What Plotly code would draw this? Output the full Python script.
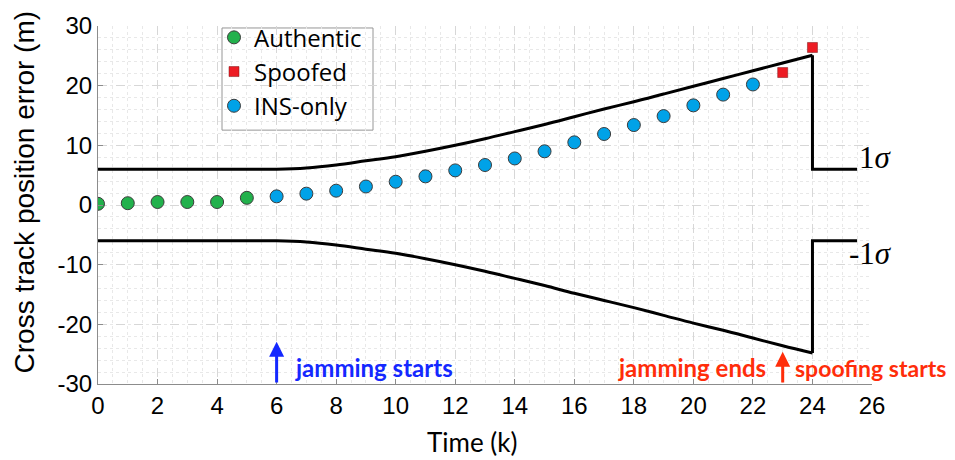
import plotly.graph_objects as go

# ---- data ----
k_auth = [0, 1, 2, 3, 4, 5]
auth_err = [0.2, 0.3, 0.5, 0.5, 0.5, 1.2]

k_spoof = [23, 24]
spoof_err = [22.2, 26.4]

k_ins = [6, 7, 8, 9, 10, 11, 12, 13, 14, 15, 16, 17, 18, 19, 20, 21, 22]
ins_err = [1.45, 1.9, 2.4, 3.1, 3.9, 4.8, 5.8, 6.7, 7.8, 9.0, 10.5, 11.9, 13.4, 14.9, 16.7, 18.5, 20.2]

# 1-sigma bound, smooth growing part
k_bound = [0, 1, 2, 3, 4, 5, 6, 7, 8, 9, 10, 11, 12, 13, 14, 15, 16, 17, 18, 19, 20, 21, 22, 23, 24]
upper_bound = [6, 6, 6, 6, 6, 6, 6, 6.2, 6.7, 7.4, 8.1, 9.0, 10.0, 11.1, 12.3, 13.5, 14.8, 16.1, 17.3,
               18.6, 19.9, 21.2, 22.5, 23.8, 25.1]
lower_bound = [-6, -6, -6, -6, -6, -6, -6, -6.2, -6.7, -7.4, -8.1, -9.0, -10.0, -11.1, -12.3, -13.5, -14.8,
               -16.0, -17.2, -18.5, -19.8, -21.0, -22.3, -23.6, -24.8]
# reset after spoofing detection
k_reset = [24, 24, 25.5]
upper_reset = [25.1, 6, 6]
lower_reset = [-24.8, -6, -6]

x_ticks = list(range(0, 27, 2))
y_ticks = [-30, -20, -10, 0, 10, 20, 30]

fig = go.Figure()

line_style = dict(color="black", width=3)
for kx, yy, shape in [(k_bound, upper_bound, "spline"), (k_bound, lower_bound, "spline"),
                      (k_reset, upper_reset, "linear"), (k_reset, lower_reset, "linear")]:
    fig.add_trace(go.Scatter(x=kx, y=yy, mode="lines", line=dict(shape=shape, simplify=False, **line_style),
                             showlegend=False, hoverinfo="skip"))

fig.add_trace(go.Scatter(x=k_auth, y=auth_err, mode="markers", name="Authentic",
                         marker=dict(symbol="circle", size=13, color="rgb(34,177,76)",
                                     line=dict(color="rgb(60,60,60)", width=1))))
fig.add_trace(go.Scatter(x=k_spoof, y=spoof_err, mode="markers", name="Spoofed",
                         marker=dict(symbol="square", size=10, color="rgb(237,28,36)",
                                     line=dict(color="rgb(120,20,20)", width=0.5))))
fig.add_trace(go.Scatter(x=k_ins, y=ins_err, mode="markers", name="INS-only",
                         marker=dict(symbol="circle", size=13, color="rgb(0,162,232)",
                                     line=dict(color="rgb(60,60,60)", width=1))))

tick_font = dict(family="Liberation Sans, Arial", size=24, color="black")

fig.update_xaxes(range=[0, 26], tickvals=x_ticks, ticktext=[str(v) for v in x_ticks],
                 tickfont=tick_font, showline=True, linecolor="rgb(140,140,140)", linewidth=1,
                 ticks="inside", ticklen=5, tickcolor="rgb(140,140,140)",
                 showgrid=True, gridcolor="rgb(215,215,215)", griddash="dash", gridwidth=1,
                 minor=dict(dtick=0.5, showgrid=True, gridcolor="rgb(232,232,232)", griddash="dot"),
                 zeroline=False)
fig.update_yaxes(range=[-30, 30], tickvals=y_ticks, ticktext=[str(v) for v in y_ticks],
                 tickfont=tick_font, showline=True, linecolor="rgb(140,140,140)", linewidth=1,
                 ticks="inside", ticklen=5, tickcolor="rgb(140,140,140)",
                 showgrid=True, gridcolor="rgb(215,215,215)", griddash="dash", gridwidth=1,
                 minor=dict(dtick=2, showgrid=True, gridcolor="rgb(232,232,232)", griddash="dot"),
                 zeroline=False)

blue = "rgb(20,40,255)"
red = "rgb(255,45,10)"

annotations = [
    dict(xref="paper", yref="paper", x=0.483, y=-0.163, text="Time (k)", showarrow=False,
         font=dict(family="Lato", size=26, color="black"), xanchor="center", yanchor="middle"),
    dict(xref="paper", yref="paper", x=-0.0956, y=0.535, text="Cross track position error (m)",
         textangle=-90, showarrow=False, font=dict(family="Liberation Sans, Arial", size=28, color="black"),
         xanchor="center", yanchor="middle"),
    # arrows
    dict(x=6, y=-22.9, ax=6, ay=-30, xref="x", yref="y", axref="x", ayref="y", text="",
         showarrow=True, arrowhead=2, arrowsize=1, arrowwidth=3, arrowcolor=blue),
    dict(x=23, y=-24.6, ax=23, ay=-30, xref="x", yref="y", axref="x", ayref="y", text="",
         showarrow=True, arrowhead=2, arrowsize=1, arrowwidth=3, arrowcolor=red),
    dict(x=6.55, y=-27.3, xref="x", yref="y", text="<b>jamming starts</b>", showarrow=False,
         font=dict(family="Lato", size=24, color=blue), xanchor="left", yanchor="middle"),
    dict(x=22.5, y=-27.3, xref="x", yref="y", text="<b>jamming ends</b>", showarrow=False,
         font=dict(family="Lato", size=24, color=red), xanchor="right", yanchor="middle"),
    dict(x=23.35, y=-27.3, xref="x", yref="y", text="<b>spoofing starts</b>", showarrow=False,
         font=dict(family="Lato", size=23, color=red), xanchor="left", yanchor="middle"),
    dict(x=25.5, y=8.0, xref="x", yref="y", text="1<i>σ</i>", showarrow=False,
         font=dict(family="Liberation Serif", size=31, color="black"), xanchor="left", yanchor="middle"),
    dict(x=25.15, y=-8.2, xref="x", yref="y", text="-1<i>σ</i>", showarrow=False,
         font=dict(family="Liberation Serif", size=31, color="black"), xanchor="left", yanchor="middle"),
]

shapes = [
    dict(type="rect", xref="paper", yref="paper",
         x0=(222 - 98) / 774, x1=(373 - 98) / 774, y0=(384 - 128) / 361, y1=(384 - 25) / 361,
         line=dict(color="rgb(150,150,150)", width=1), fillcolor="white", layer="below"),
]

fig.update_layout(
    width=955, height=460,
    margin=dict(l=98, r=83, t=23, b=76),
    paper_bgcolor="white", plot_bgcolor="rgba(0,0,0,0)",
    annotations=annotations,
    shapes=shapes,
    legend=dict(x=(214 - 98) / 774, y=1.03, xanchor="left", yanchor="top",
                bgcolor="rgba(0,0,0,0)", borderwidth=0,
                font=dict(family="Open Sans", size=24, color="black"),
                itemwidth=30, tracegroupgap=0),
)

fig.write_html("out.html")
